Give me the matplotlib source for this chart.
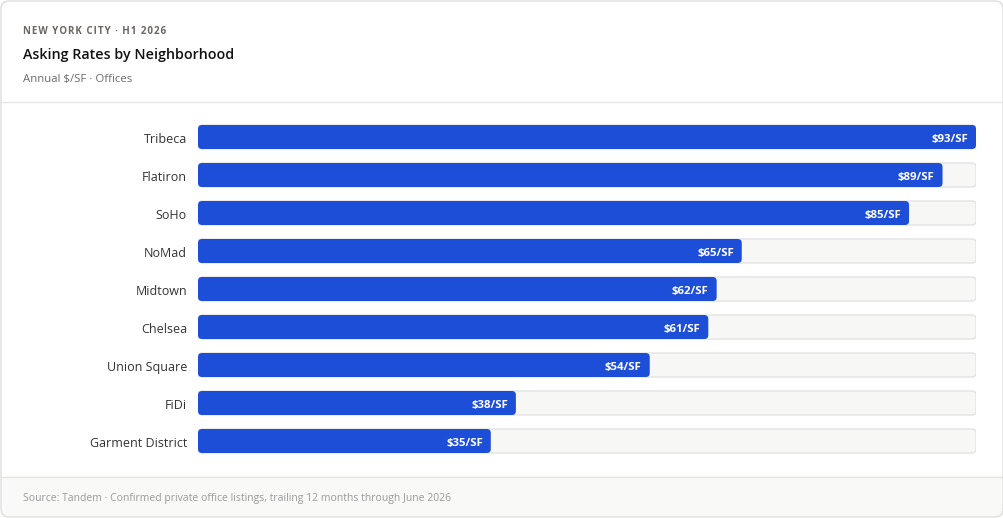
import matplotlib.pyplot as plt
from matplotlib.patches import FancyBboxPatch, Rectangle
import numpy as np

# datos
barrios = ['Tribeca', 'Flatiron', 'SoHo', 'NoMad', 'Midtown', 'Chelsea',
           'Union Square', 'FiDi', 'Garment District']
tarifas = [93, 89, 85, 65, 62, 61, 54, 38, 35]
etiquetas = ['$%d/SF' % v for v in tarifas]

W, H = 1004, 518
fig = plt.figure(figsize=(W / 100, H / 100), dpi=100)
fig.patch.set_facecolor('white')
plt.rcParams['font.family'] = ['Open Sans', 'DejaVu Sans']

# tarjeta, cabecera y pie
bg = fig.add_axes([0, 0, 1, 1])
bg.set_xlim(0, W)
bg.set_ylim(H, 0)
bg.axis('off')
bg.add_patch(Rectangle((1, 476), W - 2, 40, facecolor='#f9f9f8', edgecolor='none'))
bg.add_patch(FancyBboxPatch((1, 1), W - 2, H - 2, boxstyle='round,pad=0,rounding_size=8',
                            facecolor='none', edgecolor='#dedede', linewidth=1))
bg.plot([1, W - 1], [101.5, 101.5], color='#e6e6e6', lw=1)
bg.plot([1, W - 1], [476.5, 476.5], color='#e6e6e6', lw=1)

ceja = '\u200a'.join('NEW YORK CITY · H1 2026')
bg.text(23, 29.5, ceja, fontsize=7, fontweight='bold', color='#6b6661', va='center_baseline')
bg.text(23, 54, 'Asking Rates by Neighborhood', fontsize=10.3, fontweight='semibold',
        color='#111111', va='center_baseline')
bg.text(23, 78, 'Annual $/SF · Offices', fontsize=8.2, color='#6b6b6b', va='center_baseline')
bg.text(23, 497, 'Source: Tandem · Confirmed private office listings, trailing 12 months through June 2026',
        fontsize=7.5, color='#9a9a9a', va='center_baseline')

# gráfico de barras
ax = fig.add_axes([198 / W, (H - 460) / H, 778 / W, 342 / H])
xmax = max(tarifas)
ax.set_xlim(0, xmax)
ax.set_ylim(len(barrios) - 0.5, -0.5)
ax.axis('off')
y = np.arange(len(barrios))
h = 24 / 38

# escala px -> datos para redondear esquinas
ppx = xmax / 778
ppy = 1 / 38
r = 4 * ppx
asp = ppy / ppx

pistas = ax.barh(y, [xmax] * len(barrios), height=h, color='none')
barras = ax.barh(y, tarifas, height=h, color='none')
for p in pistas:
    ax.add_patch(FancyBboxPatch((p.get_x(), p.get_y()), p.get_width(), p.get_height(),
                                boxstyle='round,pad=0,rounding_size=%f' % r, mutation_aspect=asp,
                                facecolor='#f7f7f6', edgecolor='#e3e3e3', linewidth=1))
for b in barras:
    ax.add_patch(FancyBboxPatch((b.get_x(), b.get_y()), b.get_width(), b.get_height(),
                                boxstyle='round,pad=0,rounding_size=%f' % r, mutation_aspect=asp,
                                facecolor='#1d4ed8', edgecolor='none'))

for i, (nombre, v, t) in enumerate(zip(barrios, tarifas, etiquetas)):
    ax.text(v - 8 * ppx, i + 0.02, t, color='white', fontsize=8.2, fontweight='bold',
            ha='right', va='center_baseline')
    ax.text(-11 * ppx, i + 0.02, nombre, color='#333333', fontsize=9, ha='right',
            va='center_baseline')

fig.savefig('out.png', dpi=100, facecolor='white')
